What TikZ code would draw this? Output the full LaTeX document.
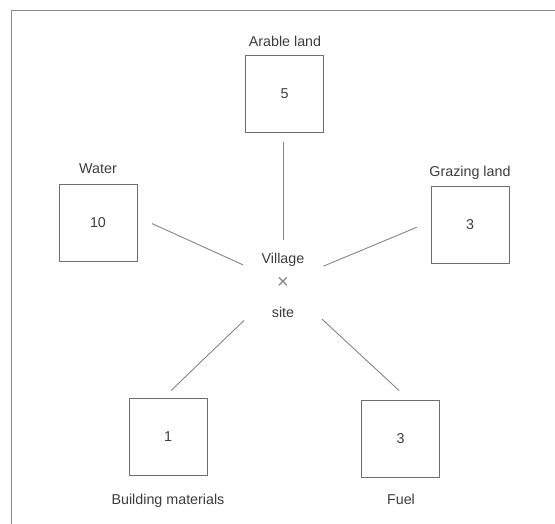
\documentclass[tikz,border=0pt]{standalone}
\usepackage{fontspec}
\setmainfont{Liberation Sans}
\usepackage{tikz}
\definecolor{boxgray}{HTML}{6E6E6E}
\definecolor{linegray}{HTML}{858585}
\definecolor{textgray}{HTML}{3C3C3C}
\definecolor{framegray}{HTML}{8C8C8C}

\begin{document}
\begin{tikzpicture}[x=1pt,y=-1pt,font=\fontsize{14.3}{17}\selectfont,text=textgray]
	
	\tikzset{plot/.style = {shape=rectangle,draw=boxgray,line width=0.9pt,minimum width=78pt,minimum height=77pt,inner sep=0pt}}
	\tikzset{caption/.style = {anchor=base,inner sep=0pt}}
	\tikzset{edge/.style = {draw=linegray,line width=0.9pt}}
	
	\useasboundingbox (0,0) rectangle (555,524);
	\draw[framegray,line width=1pt] (11,524) |- (555,11);
	
	% the five plots round the site
	\node[plot] (arable) at (284.5,93.5) {5};
	\node[plot] (water) at (98,222.5) {10};
	\node[plot] (grazing) at (470,225) {3};
	\node[plot] (building) at (168,437) {1};
	\node[plot] (fuel) at (400.5,438.5) {3};
	
	\node[caption] (arablelbl) at (285,47) {Arable land};
	\node[caption] (waterlbl) at (98,174) {Water};
	\node[caption] (grazinglbl) at (470,177) {Grazing land};
	\node[caption] (buildinglbl) at (168,504) {Building materials};
	\node[caption] (fuellbl) at (401,504) {Fuel};
	
	% village site
	\node[inner sep=0pt,text=linegray] (site) at (283,283) {\fontsize{20}{20}\selectfont ×};
	\node[caption] (village) at (283,264) {Village};
	\node[caption] (sitelbl) at (283,317) {site};
	
	\draw[edge,shorten <=43pt,shorten >=10pt] (site.center) -- (site.center |- arable.south);
	\draw[edge,shorten <=44pt,shorten >=16pt] (site.center) -- (water.8);
	\draw[edge,shorten <=44pt,shorten >=15pt] (site.center) -- (grazing.175);
	\draw[edge,shorten <=54pt,shorten >=11pt] (site.center) -- (building.97);
	\draw[edge,shorten <=53pt,shorten >=13pt] (site.center) -- (fuel.78);
	%\draw[edge] (site) -- (village);
\end{tikzpicture}
\end{document}
